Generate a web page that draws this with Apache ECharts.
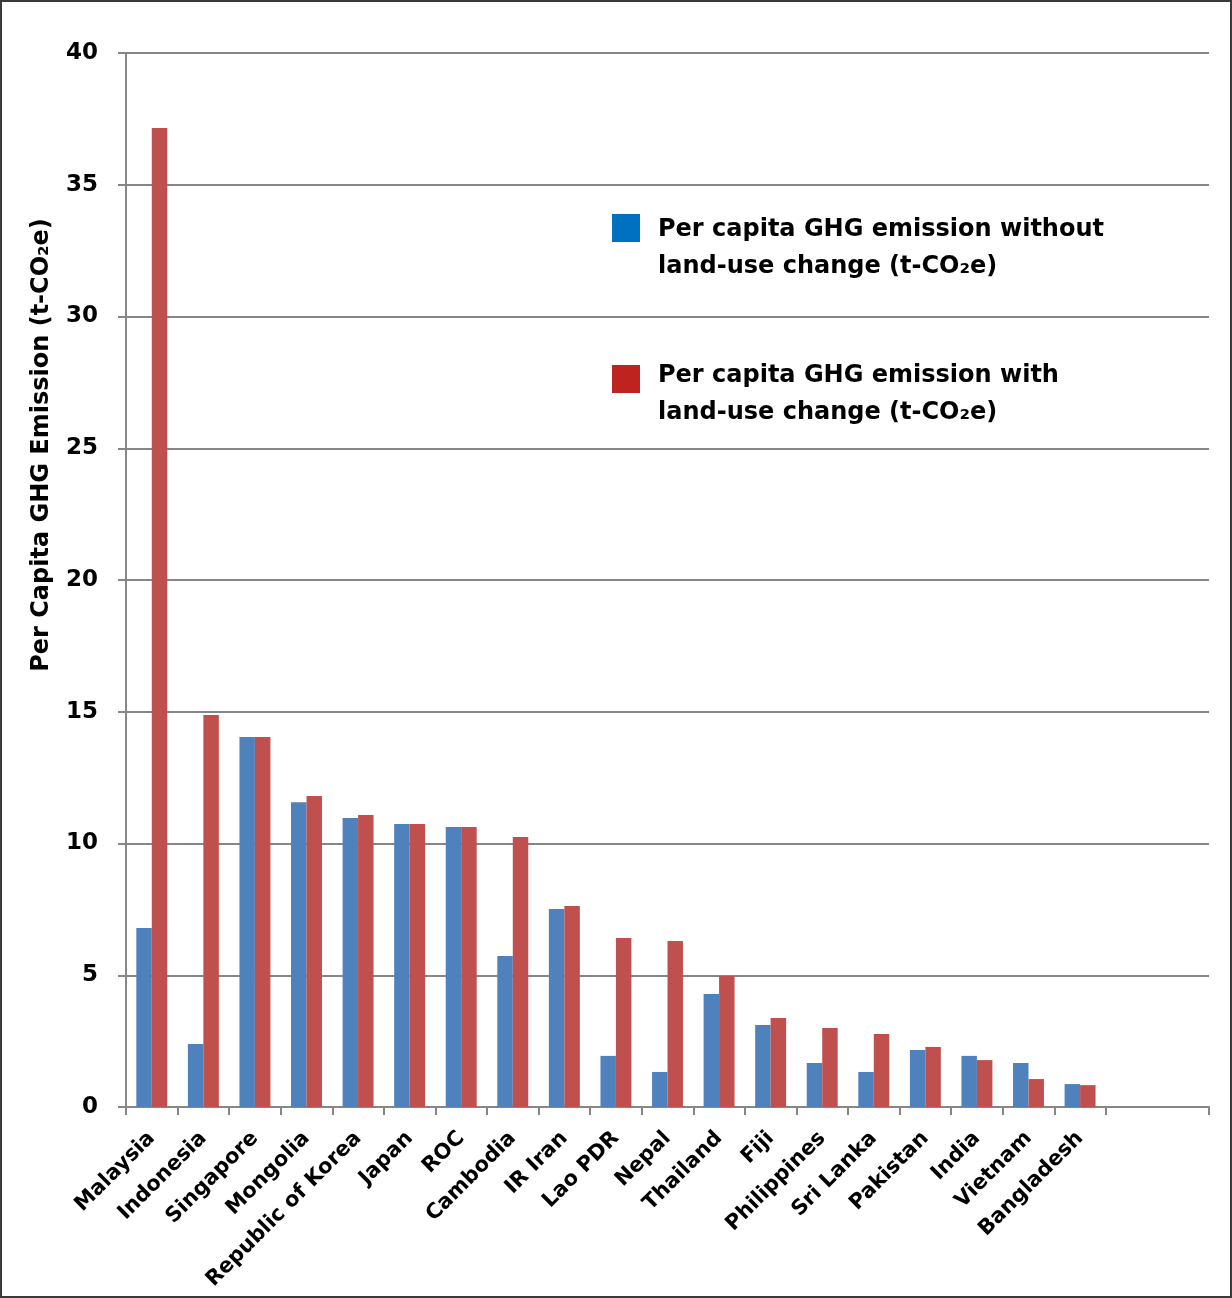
<!DOCTYPE html>
<html>
<head>
<meta charset="utf-8">
<script src="https://cdn.jsdelivr.net/npm/echarts@6/dist/echarts.min.js"></script>
<style>
  html, body { margin: 0; padding: 0; background: #fff; }
  #main { width: 1232px; height: 1298px; box-sizing: border-box; border: 2px solid #3a3a3a; }
</style>
</head>
<body>
<div id="main"></div>
<script>
// per capita GHG emission
var countries = ['Malaysia', 'Indonesia', 'Singapore', 'Mongolia', 'Republic of Korea', 'Japan', 'ROC',
    'Cambodia', 'IR Iran', 'Lao PDR', 'Nepal', 'Thailand', 'Fiji', 'Philippines', 'Sri Lanka',
    'Pakistan', 'India', 'Vietnam', 'Bangladesh', '', ''];
var withoutLUC = [6.79, 2.39, 14.04, 11.57, 10.97, 10.74, 10.63, 5.73, 7.51, 1.94, 1.33, 4.29, 3.11, 1.67, 1.33, 2.16, 1.94, 1.67, 0.87];
var withLUC = [37.15, 14.88, 14.04, 11.8, 11.08, 10.74, 10.63, 10.25, 7.63, 6.41, 6.3, 4.97, 3.38, 3.0, 2.77, 2.28, 1.78, 1.06, 0.83];
var seriesNames = ['Per capita GHG emission without\nland-use change (t-CO\u2082e)',
    'Per capita GHG emission with\nland-use change (t-CO\u2082e)'];
var yTitle = 'Per Capita GHG Emission (t-CO\u2082e)';

var font = 'DejaVu Sans';
var chart = echarts.init(document.getElementById('main'));

chart.setOption({
    animation: false,
    textStyle: { fontFamily: font, color: '#000' },
    grid: { left: 124, top: 51, right: 21, bottom: 189, containLabel: false },
    xAxis: {
        type: 'category',
        data: countries,
        axisLine: { lineStyle: { color: '#868686', width: 2 } },
        axisTick: {
            show: true,
            length: 8,
            lineStyle: { color: '#868686', width: 2 },
            interval: function (i) { return i < 20; }
        },
        axisLabel: {
            interval: 0,
            rotate: 45,
            margin: 28,
            fontSize: 21,
            fontWeight: 'bold',
            color: '#000',
            hideOverlap: false
        }
    },
    yAxis: {
        type: 'value',
        min: 0,
        max: 40,
        interval: 5,
        axisLine: { show: true, lineStyle: { color: '#868686', width: 2 } },
        axisTick: { show: true, length: 8, lineStyle: { color: '#868686', width: 2 } },
        splitLine: { lineStyle: { color: '#868686', width: 2 } },
        axisLabel: { margin: 28, fontSize: 23, fontWeight: 'bold', color: '#000' }
    },
    series: [{
        name: seriesNames[0],
        type: 'bar',
        data: withoutLUC,
        barGap: '0%',
        barCategoryGap: '40%',
        itemStyle: { color: '#4F81BD' }
    }, {
        name: seriesNames[1],
        type: 'bar',
        data: withLUC,
        barGap: '0%',
        barCategoryGap: '40%',
        itemStyle: { color: '#C0504D' }
    }],
    graphic: [
        // y axis title
        {
            type: 'text', x: 40, y: 443, rotation: Math.PI / 2,
            style: { text: yTitle, font: 'bold 24px ' + font, fill: '#000', align: 'center', verticalAlign: 'middle' }
        },
        // legend box drawn by hand so the swatch sits on the first line
        { type: 'rect', shape: { x: 610, y: 212, width: 28, height: 28 }, style: { fill: '#0070C0' } },
        {
            type: 'text', x: 656, y: 209,
            style: { text: seriesNames[0], font: 'bold 24px ' + font, lineHeight: 37, fill: '#000' }
        },
        { type: 'rect', shape: { x: 610, y: 363, width: 28, height: 28 }, style: { fill: '#BE2320' } },
        {
            type: 'text', x: 656, y: 355,
            style: { text: seriesNames[1], font: 'bold 24px ' + font, lineHeight: 37, fill: '#000' }
        }
    ]
});
</script>
</body>
</html>
